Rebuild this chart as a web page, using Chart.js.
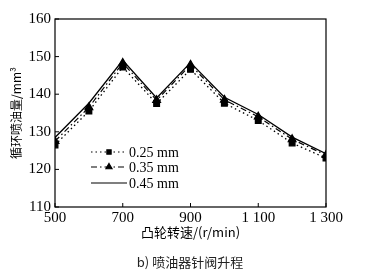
<!DOCTYPE html>
<html>
<head>
<meta charset="utf-8">
<script src="https://cdn.jsdelivr.net/npm/chart.js@4"></script>
<style>
  html, body { margin: 0; padding: 0; background: #fff; }
  #c { display: block; }
</style>
</head>
<body>
<canvas id="c" width="370" height="274"></canvas>
<script>
// datos
const speeds = [500, 600, 700, 800, 900, 1000, 1100, 1200, 1300];
const lift025 = [126.5, 135.5, 147.2, 137.5, 146.6, 137.6, 133.0, 127.0, 123.0];
const lift035 = [127.5, 136.5, 148.3, 138.4, 147.8, 138.5, 134.0, 128.0, 123.8];
const lift045 = [128.5, 137.6, 149.0, 139.0, 148.4, 139.2, 134.6, 128.6, 124.2];
const seriesNames = ['0.25 mm', '0.35 mm', '0.45 mm'];
const xTicks = [500, 700, 900, 1100, 1300];
const yTicks = [110, 120, 130, 140, 150, 160];

const serif = '"Liberation Serif", "DejaVu Serif", serif';
const cjk = '"Noto Sans CJK SC", sans-serif';

function pts(vals) {
  return speeds.map((s, i) => ({ x: s, y: vals[i] }));
}

// marco, marcas interiores, leyenda y pie de figura
const extras = {
  id: 'extras',
  afterDraw(chart) {
    const ctx = chart.ctx;
    const a = chart.chartArea;
    const sx = chart.scales.x, sy = chart.scales.y;
    ctx.save();
    ctx.strokeStyle = '#000';
    ctx.lineWidth = 1.2;
    ctx.strokeRect(a.left, a.top, a.right - a.left, a.bottom - a.top);
    ctx.lineWidth = 1;
    xTicks.forEach(v => {
      const px = sx.getPixelForValue(v);
      ctx.beginPath(); ctx.moveTo(px, a.bottom); ctx.lineTo(px, a.bottom - 4); ctx.stroke();
    });
    yTicks.forEach(v => {
      const py = sy.getPixelForValue(v);
      ctx.beginPath(); ctx.moveTo(a.left, py); ctx.lineTo(a.left + 4, py); ctx.stroke();
    });

    // leyenda
    const ly = [152, 167, 183];
    chart.data.datasets.forEach((ds, i) => {
      const y = ly[i];
      ctx.strokeStyle = '#000';
      ctx.lineWidth = 1.2;
      ctx.setLineDash(ds.borderDash || []);
      ctx.beginPath(); ctx.moveTo(91, y); ctx.lineTo(127, y); ctx.stroke();
      ctx.setLineDash([]);
      if (ds.pointRadius > 0) {
        ctx.fillStyle = '#000';
        Chart.helpers.drawPoint(ctx, {
          pointStyle: ds.pointStyle, radius: ds.pointRadius - 1, borderWidth: 1
        }, 109, y);
      }
      ctx.fillStyle = '#000';
      ctx.font = '14px ' + serif;
      ctx.textAlign = 'left';
      ctx.textBaseline = 'middle';
      ctx.fillText(ds.label, 129, y + 1);
    });

    // pie de figura
    ctx.font = '13px ' + cjk;
    ctx.textAlign = 'center';
    ctx.textBaseline = 'middle';
    ctx.fillStyle = '#222';
    ctx.fillText('b) 喷油器针阀升程', 190, 262);
    ctx.restore();
  }
};

new Chart(document.getElementById('c'), {
  type: 'line',
  data: {
    datasets: [
      {
        label: seriesNames[0],
        data: pts(lift025),
        borderColor: '#000',
        backgroundColor: '#000',
        borderWidth: 1.3,
        borderDash: [1.5, 3],
        pointStyle: 'rect',
        pointRadius: 4,
        tension: 0
      },
      {
        label: seriesNames[1],
        data: pts(lift035),
        borderColor: '#000',
        backgroundColor: '#000',
        borderWidth: 1.2,
        borderDash: [6, 3, 1.5, 3],
        pointStyle: 'triangle',
        pointRadius: 4.5,
        tension: 0
      },
      {
        label: seriesNames[2],
        data: pts(lift045),
        borderColor: '#000',
        backgroundColor: '#000',
        borderWidth: 1.3,
        pointRadius: 0,
        tension: 0
      }
    ]
  },
  options: {
    responsive: false,
    animation: false,
    layout: { padding: { left: 9, right: 44, top: 19, bottom: 34 } },
    plugins: {
      legend: { display: false },
      tooltip: { enabled: false }
    },
    scales: {
      x: {
        type: 'linear',
        min: 500,
        max: 1300,
        afterBuildTicks: s => { s.ticks = xTicks.map(v => ({ value: v })); },
        afterFit: s => { s.height = 33; },
        grid: { display: false, drawTicks: false, tickLength: 0 },
        border: { display: false },
        ticks: {
          color: '#000',
          padding: 2,
          maxRotation: 0,
          font: { family: serif, size: 15 },
          callback: v => v >= 1000 ? String(v).replace(/^(\d)/, '$1 ') : String(v)
        },
        title: {
          display: true,
          text: '凸轮转速/(r/min)',
          color: '#000',
          padding: { top: 0, bottom: 0 },
          font: { family: cjk, size: 13 }
        }
      },
      y: {
        min: 110,
        max: 160,
        afterBuildTicks: s => { s.ticks = yTicks.map(v => ({ value: v })); },
        afterFit: s => { s.width = 46; },
        grid: { display: false, drawTicks: false, tickLength: 0 },
        border: { display: false },
        ticks: {
          color: '#000',
          padding: 4,
          font: { family: serif, size: 15 }
        },
        title: {
          display: true,
          text: '循环喷油量/mm³',
          color: '#000',
          padding: { top: 0, bottom: 0 },
          font: { family: cjk, size: 12 }
        }
      }
    }
  },
  plugins: [extras]
});
</script>
</body>
</html>
